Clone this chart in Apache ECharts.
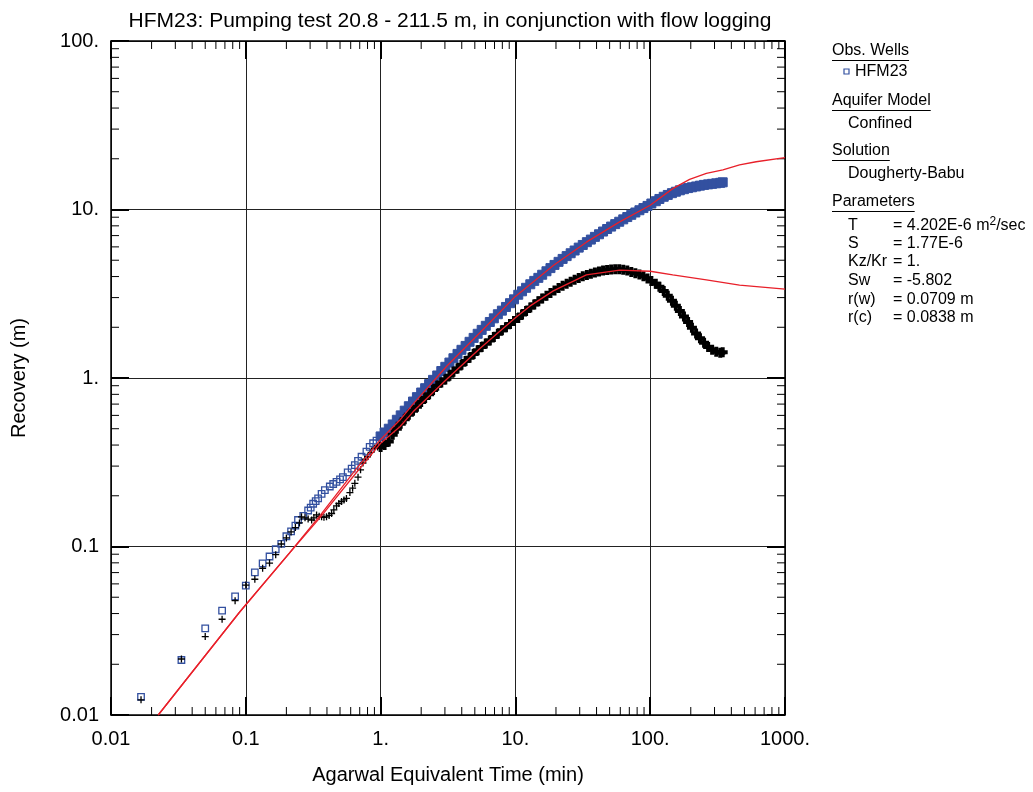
<!DOCTYPE html>
<html>
<head>
<meta charset="utf-8">
<script src="https://cdn.jsdelivr.net/npm/echarts/dist/echarts.min.js"></script>
<style>
  html, body { margin: 0; padding: 0; background: #fff; }
  #chart { width: 1033px; height: 792px; }
</style>
</head>
<body>
<div id="chart"></div>
<script>
// ---------------- DATA ----------------
const titleText = 'HFM23: Pumping test 20.8 - 211.5 m, in conjunction with flow logging';
const xAxisName = 'Agarwal Equivalent Time (min)';
const yAxisName = 'Recovery (m)';
const xTickLabels = ['0.01', '0.1', '1.', '10.', '100.', '1000.'];
const yTickLabels = ['0.01', '0.1', '1.', '10.', '100.'];

// Early-time observations (sparse, individual symbols)
const earlyTime = [0.0167, 0.0333, 0.05, 0.0667, 0.0833, 0.1, 0.1167, 0.1333, 0.15, 0.1667,
  0.1833, 0.2, 0.2167, 0.2333, 0.244, 0.267, 0.29, 0.303, 0.316, 0.33,
  0.344, 0.365, 0.386, 0.42, 0.445, 0.471, 0.5, 0.525, 0.57, 0.61,
  0.644, 0.68, 0.722, 0.785, 0.83, 0.88, 0.933];
const recoveryEarly = [0.0128, 0.0212, 0.0327, 0.0416, 0.0506, 0.0586, 0.0703, 0.0795, 0.0872, 0.0963,
  0.1036, 0.115, 0.123, 0.133, 0.1436, 0.152, 0.1636, 0.170, 0.1793, 0.186,
  0.193, 0.205, 0.216, 0.227, 0.235, 0.242, 0.250, 0.258, 0.275, 0.29,
  0.304, 0.322, 0.341, 0.366, 0.39, 0.41, 0.425];
const derivEarlyTime = [0.0167, 0.0333, 0.05, 0.0667, 0.0833, 0.1, 0.1167, 0.1333, 0.15, 0.1667,
  0.1833, 0.2, 0.2167, 0.2333, 0.25, 0.259, 0.275, 0.29, 0.308, 0.32,
  0.335, 0.35, 0.365, 0.38, 0.397, 0.415, 0.433, 0.45, 0.471, 0.49,
  0.513, 0.535, 0.558, 0.592, 0.62, 0.644, 0.68, 0.71, 0.74, 0.77,
  0.80, 0.85, 0.90, 0.95];
const derivativeEarly = [0.0123, 0.0215, 0.0292, 0.0370, 0.0477, 0.059, 0.0639, 0.0743, 0.0797, 0.0894,
  0.1035, 0.1125, 0.122, 0.1295, 0.138, 0.150, 0.148, 0.1455, 0.1436, 0.148,
  0.154, 0.151, 0.150, 0.149, 0.150, 0.153, 0.157, 0.165, 0.174, 0.180,
  0.185, 0.189, 0.193, 0.209, 0.222, 0.237, 0.258, 0.285, 0.313, 0.330,
  0.341, 0.362, 0.383, 0.39];

// Later observations (dense band)
const denseTime = [1.0, 1.07, 1.15, 1.23, 1.32, 1.41, 1.51, 1.62, 1.74, 1.86,
  2.0, 2.14, 2.29, 2.45, 2.63, 2.82, 3.02, 3.24, 3.47, 3.72,
  3.98, 4.27, 4.57, 4.90, 5.25, 5.62, 6.03, 6.46, 6.92, 7.41,
  7.94, 8.51, 9.12, 9.77, 10.5, 11.2, 12.0, 12.9, 13.8, 14.8,
  15.8, 17.0, 18.2, 19.5, 20.9, 22.4, 24.0, 25.7, 27.5, 29.5,
  31.6, 33.9, 36.3, 38.9, 41.7, 44.7, 47.9, 51.3, 55.0, 58.9,
  63.1, 67.6, 72.4, 77.6, 83.2, 89.1, 95.5, 102, 110, 117,
  126, 135, 145, 155, 166, 178, 191, 204, 219, 234,
  251, 269, 288, 309, 331, 345];
const recoveryDense = [0.45, 0.475, 0.50, 0.53, 0.565, 0.60, 0.64, 0.68, 0.725, 0.77,
  0.82, 0.87, 0.92, 0.975, 1.035, 1.10, 1.165, 1.235, 1.31, 1.39,
  1.47, 1.55, 1.64, 1.73, 1.83, 1.93, 2.04, 2.15, 2.26, 2.39,
  2.51, 2.64, 2.78, 2.93, 3.12, 3.27, 3.43, 3.60, 3.77, 3.93,
  4.10, 4.30, 4.49, 4.69, 4.89, 5.09, 5.29, 5.50, 5.71, 5.94,
  6.16, 6.40, 6.63, 6.88, 7.13, 7.40, 7.66, 7.92, 8.19, 8.46,
  8.74, 9.02, 9.30, 9.60, 9.90, 10.2, 10.5, 10.85, 11.2, 11.55,
  11.9, 12.2, 12.5, 12.75, 13.0, 13.2, 13.4, 13.55, 13.7, 13.85,
  14.0, 14.1, 14.2, 14.3, 14.4, 14.5];
const derivativeDense = [0.39, 0.40, 0.42, 0.46, 0.50, 0.535, 0.57, 0.605, 0.64, 0.675,
  0.72, 0.76, 0.80, 0.85, 0.90, 0.94, 0.98, 1.03, 1.09, 1.14,
  1.20, 1.26, 1.32, 1.39, 1.46, 1.53, 1.60, 1.67, 1.75, 1.83,
  1.92, 2.00, 2.09, 2.18, 2.27, 2.38, 2.50, 2.62, 2.73, 2.85,
  2.96, 3.08, 3.19, 3.31, 3.42, 3.53, 3.63, 3.73, 3.83, 3.92,
  4.01, 4.09, 4.16, 4.23, 4.29, 4.34, 4.38, 4.41, 4.42, 4.42,
  4.39, 4.34, 4.26, 4.19, 4.12, 4.02, 3.90, 3.76, 3.62, 3.48,
  3.28, 3.08, 2.87, 2.68, 2.50, 2.32, 2.15, 1.99, 1.84, 1.72,
  1.62, 1.53, 1.47, 1.43, 1.41, 1.42];

// Dougherty-Babu model curves
const modelRecTime = [0.0224, 0.0904, 0.21, 0.354, 0.662, 1.0, 1.39, 1.74, 3.08, 5.43, 10, 19.1, 33.6, 59.3, 100, 147, 196, 261, 346, 460, 611, 1000];
const modelRecovery = [0.01, 0.041, 0.0912, 0.152, 0.29, 0.432, 0.563, 0.70, 1.17, 1.85, 3.05, 4.65, 6.4, 8.45, 10.6, 13.3, 15.1, 16.4, 17.2, 18.4, 19.2, 20.3];
const modelDerTime = [0.0224, 0.0904, 0.21, 0.354, 0.662, 1.0, 1.39, 1.74, 3.08, 5.43, 10, 12.8, 19.1, 33.6, 59.3, 100, 147, 261, 460, 1000];
const modelDerivative = [0.01, 0.041, 0.091, 0.148, 0.275, 0.41, 0.514, 0.63, 0.98, 1.49, 2.28, 2.67, 3.29, 4.09, 4.37, 4.30, 4.09, 3.82, 3.56, 3.37];

// Legend / parameter panel text
const panelHeads = ['Obs. Wells', 'Aquifer Model', 'Solution', 'Parameters'];
const wellName = 'HFM23';
const aquiferModel = 'Confined';
const solutionName = 'Dougherty-Babu';
const paramNames = ['T', 'S', 'Kz/Kr', 'Sw', 'r(w)', 'r(c)'];
const paramValues = ['= 4.202E-6 m{sup|2}/sec', '= 1.77E-6', '= 1.', '= -5.802', '= 0.0709 m', '= 0.0838 m'];

// ---------------- CHART ----------------
const X_MIN = 0.01, X_MAX = 1000, Y_MIN = 0.01, Y_MAX = 100;
const FONT = '"Liberation Sans", Arial, Helvetica, sans-serif';
const BLUE = '#3350a0';
const RED = '#e8202a';

const zip = (xs, ys) => xs.map((x, i) => [x, ys[i]]);
const minorVals = (lo, hi) => {
  const out = [];
  for (let k = lo; k < hi; k++) for (let m = 2; m <= 9; m++) out.push(+(m * Math.pow(10, k)).toPrecision(3));
  return out;
};
const xMinor = minorVals(-2, 3);
const yMinor = minorVals(-2, 2);

const chart = echarts.init(document.getElementById('chart'), null, { renderer: 'canvas' });

const plusSymbol = 'path://M0,5L10,5M5,0L5,10';

function axisBase(extra) {
  return Object.assign({
    type: 'log', logBase: 10,
    axisLine: { show: true, onZero: false, lineStyle: { color: '#000', width: 1.5 } },
    axisTick: { show: true, inside: true, length: 18, lineStyle: { color: '#000', width: 2 } },
    minorTick: { show: false },
  }, extra);
}

const TICK = 8;
function xMinorRender(params, api) {
  const v = api.value(0);
  const b = api.coord([v, Y_MIN]);
  const t = api.coord([v, Y_MAX]);
  const st = { stroke: '#000', lineWidth: 1 };
  return { type: 'group', children: [
    { type: 'line', shape: { x1: b[0], y1: b[1], x2: b[0], y2: b[1] - TICK }, style: st },
    { type: 'line', shape: { x1: t[0], y1: t[1], x2: t[0], y2: t[1] + TICK }, style: st }
  ]};
}
function yMinorRender(params, api) {
  const v = api.value(1);
  const l = api.coord([X_MIN, v]);
  const r = api.coord([X_MAX, v]);
  const st = { stroke: '#000', lineWidth: 1 };
  return { type: 'group', children: [
    { type: 'line', shape: { x1: l[0], y1: l[1], x2: l[0] + TICK, y2: l[1] }, style: st },
    { type: 'line', shape: { x1: r[0], y1: r[1], x2: r[0] - TICK, y2: r[1] }, style: st }
  ]};
}

// Panel graphics
const PX = 832, PX2 = 848, PEQ = 893;
const measure = (() => {
  const c = document.createElement('canvas').getContext('2d');
  return (txt, size) => { c.font = size + 'px ' + FONT; return c.measureText(txt).width; };
})();
const PFS = 16;
const graphics = [];
function ptext(txt, x, y, extra) {
  graphics.push(Object.assign({ type: 'text', x: x, y: y, silent: true,
    style: { text: txt, font: PFS + 'px ' + FONT, fill: '#000', verticalAlign: 'middle', align: 'left' } }, extra || {}));
}
function head(txt, y) {
  ptext(txt, PX, y);
  const w = measure(txt, PFS);
  graphics.push({ type: 'line', silent: true, shape: { x1: PX, y1: y + 9.5, x2: PX + w, y2: y + 9.5 }, style: { stroke: '#000', lineWidth: 1 } });
}
head(panelHeads[0], 51);
graphics.push({ type: 'rect', silent: true, shape: { x: 844, y: 69, width: 5, height: 5 }, style: { fill: '#fff', stroke: BLUE, lineWidth: 1.2 } });
ptext(wellName, 855, 72);
head(panelHeads[1], 101);
ptext(aquiferModel, PX2, 124);
head(panelHeads[2], 151);
ptext(solutionName, PX2, 174);
head(panelHeads[3], 202);
const rowY = [226, 244, 262, 281, 300, 318];
paramNames.forEach((n, i) => {
  ptext(n, PX2, rowY[i]);
  graphics.push({ type: 'text', x: PEQ, y: rowY[i], silent: true,
    style: { text: paramValues[i], font: PFS + 'px ' + FONT, fill: '#000', verticalAlign: 'middle', align: 'left',
      rich: { sup: { fontSize: 12, fontFamily: FONT, verticalAlign: 'bottom', padding: [0, 0, 9, 0] } } } });
});

const option = {
  animation: false,
  backgroundColor: '#fff',
  textStyle: { fontFamily: FONT },
  title: {
    text: titleText, left: 445, top: 6, textAlign: 'center',
    textStyle: { fontFamily: FONT, fontSize: 21, fontWeight: 'normal', color: '#000' }
  },
  grid: { left: 111, top: 41, width: 674, height: 674, containLabel: false },
  xAxis: [
    axisBase({
      position: 'bottom', min: X_MIN, max: X_MAX,
      name: xAxisName, nameLocation: 'middle', nameGap: 50,
      nameTextStyle: { fontFamily: FONT, fontSize: 20, color: '#000' },
      axisLabel: { show: true, margin: 14, fontFamily: FONT, fontSize: 20, color: '#000',
        formatter: v => xTickLabels[Math.round(Math.log10(v)) + 2] },
      splitLine: { show: true, lineStyle: { color: '#222', width: 1 } }
    }),
    axisBase({ position: 'top', min: X_MIN, max: X_MAX, axisLabel: { show: false }, splitLine: { show: false } })
  ],
  yAxis: [
    axisBase({
      position: 'left', min: Y_MIN, max: Y_MAX,
      name: yAxisName, nameLocation: 'middle', nameGap: 82, nameRotate: 90,
      nameTextStyle: { fontFamily: FONT, fontSize: 20, color: '#000' },
      axisLabel: { show: true, margin: 12, fontFamily: FONT, fontSize: 20, color: '#000',
        formatter: v => yTickLabels[Math.round(Math.log10(v)) + 2] },
      splitLine: { show: true, lineStyle: { color: '#222', width: 1 } }
    }),
    axisBase({ position: 'right', min: Y_MIN, max: Y_MAX, axisLabel: { show: false }, splitLine: { show: false } })
  ],
  graphic: graphics,
  series: [
    { type: 'custom', name: 'xMinor', silent: true, clip: false, renderItem: xMinorRender,
      data: xMinor.map(v => [v, Y_MIN]), z: 5 },
    { type: 'custom', name: 'yMinor', silent: true, clip: false, renderItem: yMinorRender,
      data: yMinor.map(v => [X_MIN, v]), z: 5 },
    { type: 'scatter', name: 'HFM23', data: zip(earlyTime, recoveryEarly), symbol: 'rect', symbolSize: 6.5,
      itemStyle: { color: 'rgba(255,255,255,0)', borderColor: BLUE, borderWidth: 1.3, opacity: 1 }, z: 6 },
    { type: 'scatter', name: 'HFM23 dense', data: zip(denseTime, recoveryDense), symbol: 'rect', symbolSize: 9,
      itemStyle: { color: BLUE, borderColor: BLUE, borderWidth: 1, opacity: 1 }, z: 6 },
    { type: 'scatter', name: 'Derivative', data: zip(derivEarlyTime, derivativeEarly), symbol: plusSymbol, symbolSize: 7,
      itemStyle: { color: 'rgba(0,0,0,0)', borderColor: '#000', borderWidth: 1.3, opacity: 1 }, z: 7 },
    { type: 'scatter', name: 'Derivative dense', data: zip(denseTime, derivativeDense), symbol: plusSymbol, symbolSize: 10,
      itemStyle: { color: 'rgba(0,0,0,0)', borderColor: '#000', borderWidth: 4, opacity: 1 }, z: 7 },
    { type: 'line', name: 'Model recovery', data: zip(modelRecTime, modelRecovery), showSymbol: false, symbol: 'none',
      lineStyle: { color: RED, width: 1.3 }, z: 8 },
    { type: 'line', name: 'Model derivative', data: zip(modelDerTime, modelDerivative), showSymbol: false, symbol: 'none',
      lineStyle: { color: RED, width: 1.3 }, z: 8 }
  ]
};
chart.setOption(option);
</script>
</body>
</html>
